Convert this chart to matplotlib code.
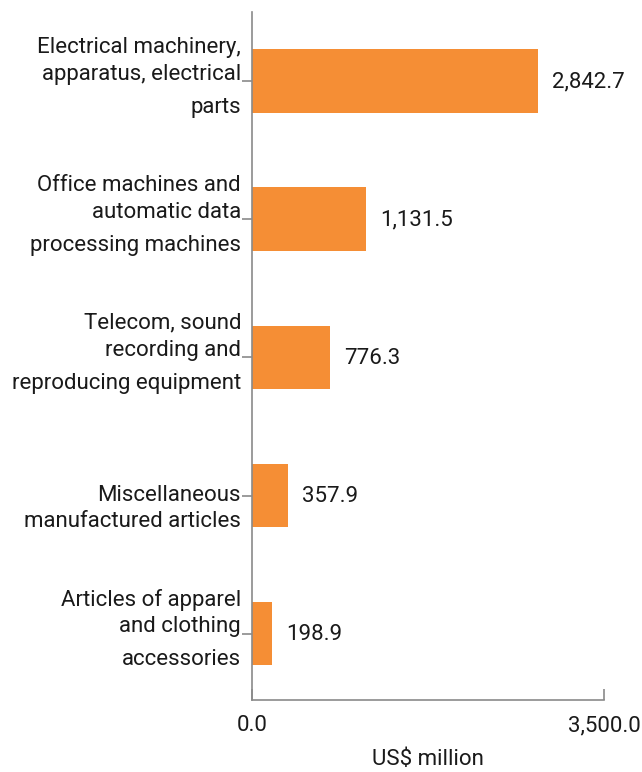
import matplotlib
matplotlib.use("Agg")
import matplotlib.pyplot as plt

categories = [
    ["Electrical machinery,", "apparatus, electrical", "parts"],
    ["Office machines and", "automatic data", "processing machines"],
    ["Telecom, sound", "recording and", "reproducing equipment"],
    ["Miscellaneous", "manufactured articles"],
    ["Articles of apparel", "and clothing", "accessories"],
]
values = [2842.7, 1131.5, 776.3, 357.9, 198.9]
value_labels = ["2,842.7", "1,131.5", "776.3", "357.9", "198.9"]
x_ticks = [0, 3500]
x_tick_labels = ["0.0", "3,500.0"]
x_label = "US$ million"

plt.rcParams['font.family'] = ['Roboto', 'DejaVu Sans']
W, H = 642, 772
fig = plt.figure(figsize=(W / 100, H / 100), dpi=100)
ax = fig.add_axes([252 / W, 1 - 700 / H, (604 - 252) / W, (700 - 12) / H])

bar_color = "#F58E35"
text_color = "#1a1a1a"
spine_color = "#8a8a8a"
fs = 16

ypos = list(range(len(values)))
ax.barh(ypos, values, height=0.46, color=bar_color)
ax.set_ylim(4.48, -0.5)
ax.set_xlim(0, 3500)

for s in ["top", "right"]:
    ax.spines[s].set_visible(False)
for s in ["left", "bottom"]:
    ax.spines[s].set_color(spine_color)
    ax.spines[s].set_linewidth(1.2)

ax.set_yticks(ypos)
ax.set_yticklabels([""] * len(ypos))
ax.tick_params(axis="y", direction="out", length=7, color=spine_color, width=1.2)
ax.set_xticks(x_ticks)
ax.set_xticklabels(x_tick_labels, fontsize=fs, color=text_color)
ax.tick_params(axis="x", direction="in", length=8, color=spine_color, width=1.2, pad=11)
ax.set_xlabel(x_label, fontsize=fs, color=text_color, labelpad=9)

px = 0.72  # points per pixel
for i, lines in enumerate(categories):
    if len(lines) == 3:
        offs = [-34, -7, 26]
    else:
        offs = [0, 26]
    for line, o in zip(lines, offs):
        ax.annotate(line, xy=(0, i), xycoords="data",
                    xytext=(-11 * px, -o * px), textcoords="offset points",
                    ha="right", va="center", fontsize=fs, color=text_color)

for i, (v, lab) in enumerate(zip(values, value_labels)):
    ax.annotate(lab, xy=(v, i), xycoords="data",
                xytext=(14 * px, -1 * px), textcoords="offset points",
                ha="left", va="center", fontsize=fs, color=text_color)

fig.savefig("out.png", dpi=100)
